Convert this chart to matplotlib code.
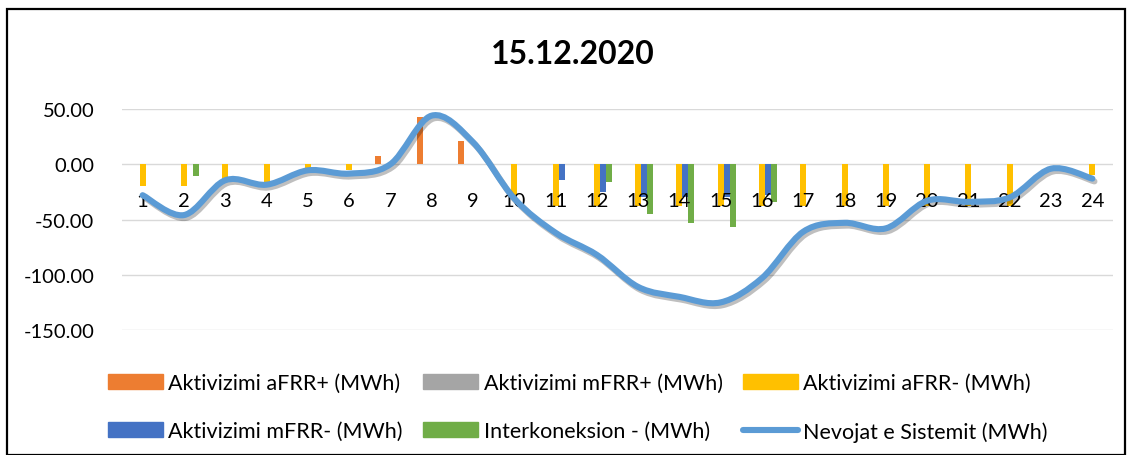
import numpy as np
import matplotlib.pyplot as plt
from matplotlib.path import Path
from matplotlib.patches import PathPatch, Rectangle, Patch
from matplotlib.lines import Line2D
from matplotlib.ticker import FuncFormatter
import matplotlib.patheffects as pe

plt.rcParams['font.family'] = ['Lato', 'DejaVu Sans']

# values (MWh)
hours = list(range(1, 25))
afrr_plus = [0, 0, 0, 0, 0, 0, 7.5, 43, 21, 0, 0, 0,
             0, 0, 0, 0, 0, 0, 0, 0, 0, 0, 0, 0]
mfrr_plus = [0] * 24
afrr_minus = [-20, -20, -13, -16, -3, -5, 0, 0, 0, -28, -38, -38,
              -38, -38, -38, -38, -38, -38, -38, -38, -38, -38, 0, -10]
mfrr_minus = [0, 0, 0, 0, 0, 0, 0, 0, 0, 0, -14, -25,
              -30, -30, -30, -28, 0, 0, 0, 0, 0, 0, 0, 0]
interkoneksion = [0, -11, 0, 0, 0, 0, 0, 0, 0, 0, 0, -16,
                  -45, -53, -57, -34, 0, 0, 0, 0, 0, 0, 0, 0]
nevojat = [-28, -46, -14.5, -18.5, -5.5, -8.5, 0, 44, 20, -31, -62, -82,
           -111, -120, -125, -103, -61, -53, -58, -33, -34, -30, -4, -13]

title = "15.12.2020"
labels = ["Aktivizimi aFRR+ (MWh)", "Aktivizimi mFRR+ (MWh)", "Aktivizimi aFRR- (MWh)",
          "Aktivizimi mFRR- (MWh)", "Interkoneksion - (MWh)", "Nevojat e Sistemit (MWh)"]
colors = ["#ED7D31", "#A5A5A5", "#FFC000", "#4472C4", "#70AD47", "#5B9BD5"]

W, H = 1131, 456
fig = plt.figure(figsize=(W / 100, H / 100), dpi=100)
ax = fig.add_axes([122 / W, 1 - 331 / H, (1113 - 122) / W, (331 - 110) / H])

x = np.array(hours, dtype=float)
bw = 0.145
series = [afrr_plus, mfrr_plus, afrr_minus, mfrr_minus, interkoneksion]
for i, (vals, c) in enumerate(zip(series, colors[:5])):
    ax.bar(x + (i - 2) * bw, vals, width=bw, color=c, zorder=1, linewidth=0)

# smoothed line (Excel-style catmull-rom -> bezier)
y = np.array(nevojat, dtype=float)
px = np.concatenate([[x[0]], x, [x[-1]]])
py = np.concatenate([[y[0]], y, [y[-1]]])
verts = [(x[0], y[0])]
codes = [Path.MOVETO]
for k in range(1, len(px) - 2):
    c1 = (px[k] + (px[k + 1] - px[k - 1]) / 6, py[k] + (py[k + 1] - py[k - 1]) / 6)
    c2 = (px[k + 1] - (px[k + 2] - px[k]) / 6, py[k + 1] - (py[k + 2] - py[k]) / 6)
    verts += [c1, c2, (px[k + 1], py[k + 1])]
    codes += [Path.CURVE4] * 3
ax.add_patch(PathPatch(Path(verts, codes), facecolor="none", edgecolor=colors[5], lw=4.4,
                       capstyle="round", zorder=2,
                       path_effects=[pe.SimpleLineShadow(offset=(1.5, -2), alpha=0.25), pe.Normal()]))

for v in [50, 0, -50, -100, -150]:
    ax.axhline(v, color="#D9D9D9", lw=1, zorder=0)

ax.set_xlim(0.5, 24.5)
ax.set_ylim(-150, 50)
ax.set_yticks([50, 0, -50, -100, -150])
ax.yaxis.set_major_formatter(FuncFormatter(lambda v, p: f"{v:.2f}"))
ax.set_xticks(x)
ax.set_xticklabels([str(h) for h in hours])
ax.spines["bottom"].set_position(("data", 0))
for s in ax.spines.values():
    s.set_visible(False)
ax.tick_params(axis="x", length=0, pad=20, labelsize=14.5, colors="black")
ax.tick_params(axis="y", length=0, pad=20, labelsize=14.5, colors="black")

fig.text(573 / W, 1 - 55 / H, title, fontsize=23, fontweight="bold", ha="center", va="center")

handles = [Patch(color=c) for c in colors[:5]]
handles.append(Line2D([], [], color=colors[5], lw=4.4, solid_capstyle="round"))
order = [0, 3, 1, 4, 2, 5]
fig.legend([handles[i] for i in order], [labels[i] for i in order], ncol=3,
           loc="upper left", bbox_to_anchor=(108 / W, 1 - 374 / H), frameon=False,
           fontsize=15.5, borderpad=0, borderaxespad=0, handlelength=2.55,
           handleheight=0.67, handletextpad=0.25, columnspacing=0.95, labelspacing=1.3)

fig.patches.append(Rectangle((7 / W, 0), (1125 - 7) / W, 1 - 10 / H, transform=fig.transFigure,
                             fill=False, edgecolor="black", lw=1.6))

fig.savefig("out.png", dpi=100)
